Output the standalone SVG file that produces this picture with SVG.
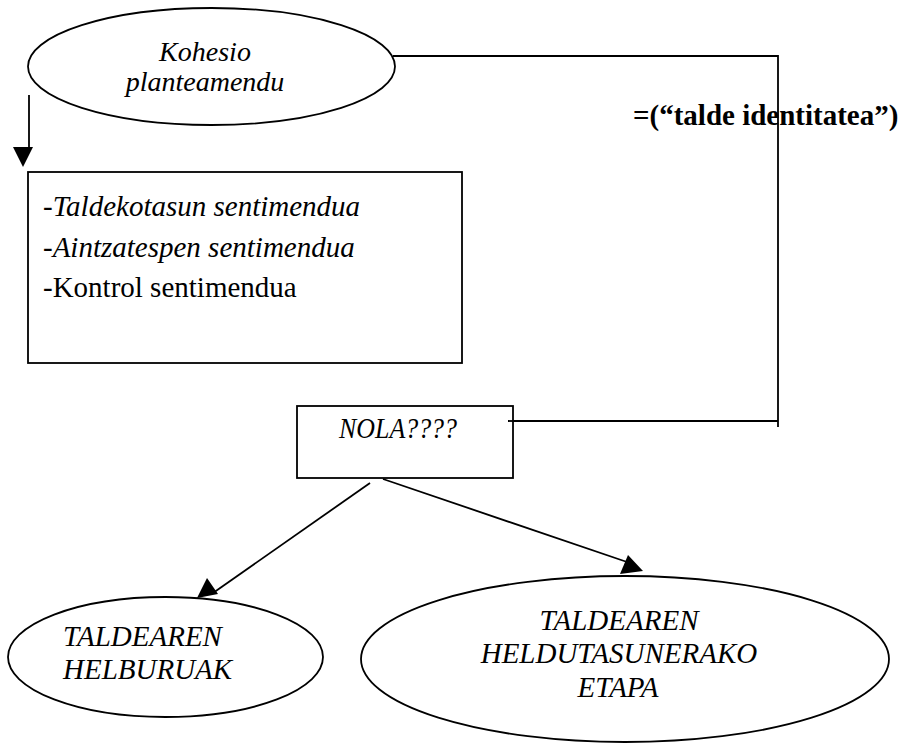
<svg xmlns="http://www.w3.org/2000/svg" width="903" height="744" viewBox="0 0 903 744">
  <style>
    .shape { fill: #fff; stroke: #000; stroke-width: 1.8; }
    .line { fill: none; stroke: #000; stroke-width: 1.8; }
    .head { fill: #000; stroke: none; }
    text { font-family: "Liberation Serif", "Times New Roman", serif; font-size: 29px; fill: #000; }
    .it { font-style: italic; }
    .bold { font-weight: bold; }
    .small { font-size: 28px; }
  </style>
  <rect width="903" height="744" fill="#fff"/>

  <!-- connectors -->
  <g id="connectors">
    <!-- ellipse to feelings box -->
    <line class="line" x1="29" y1="95" x2="29" y2="150"/>
    <polygon class="head" points="13,147 33,147 23,167"/>
    <!-- loop from ellipse to NOLA box -->
    <polyline class="line" points="393,56 778,56 778,427"/>
    <line class="line" x1="508" y1="421" x2="778" y2="421"/>
    <!-- NOLA to the two outcomes -->
    <line class="line" x1="370" y1="483" x2="213" y2="593"/>
    <polygon class="head" points="197,598 207,578 218,594"/>
    <line class="line" x1="383" y1="479" x2="630" y2="563"/>
    <polygon class="head" points="620,574 628,555 643,571"/>
  </g>

  <g id="kohesio">
    <ellipse class="shape" cx="211.5" cy="66.5" rx="183.5" ry="58.5"/>
    <text class="it small" x="205" y="61" text-anchor="middle">Kohesio</text>
    <text class="it small" x="205" y="91" text-anchor="middle">planteamendu</text>
  </g>

  <g id="label-identitatea">
    <text class="bold" x="633" y="125">=(“talde identitatea”)</text>
  </g>

  <g id="sentimenduak">
    <rect class="shape" x="28" y="172" width="434" height="191"/>
    <text class="it" x="43" y="216">-Taldekotasun sentimendua</text>
    <text class="it" x="43" y="257">-Aintzatespen sentimendua</text>
    <text x="43" y="297">-Kontrol sentimendua</text>
  </g>

  <g id="nola">
    <rect class="shape" x="297" y="406" width="216" height="72"/>
    <line class="line" x1="508" y1="421" x2="513" y2="421"/>
    <text class="it" x="339" y="438" textLength="118" lengthAdjust="spacingAndGlyphs">NOLA????</text>
  </g>

  <g id="helburuak">
    <ellipse class="shape" cx="165.5" cy="657" rx="157.5" ry="60"/>
    <text class="it" x="63" y="646">TALDEAREN</text>
    <text class="it" x="63" y="679">HELBURUAK</text>
  </g>

  <g id="heldutasuna">
    <ellipse class="shape" cx="625" cy="659" rx="264" ry="83"/>
    <text class="it" x="619" y="630" text-anchor="middle">TALDEAREN</text>
    <text class="it" x="619" y="663" text-anchor="middle">HELDUTASUNERAKO</text>
    <text class="it" x="618" y="697" text-anchor="middle">ETAPA</text>
  </g>
</svg>
